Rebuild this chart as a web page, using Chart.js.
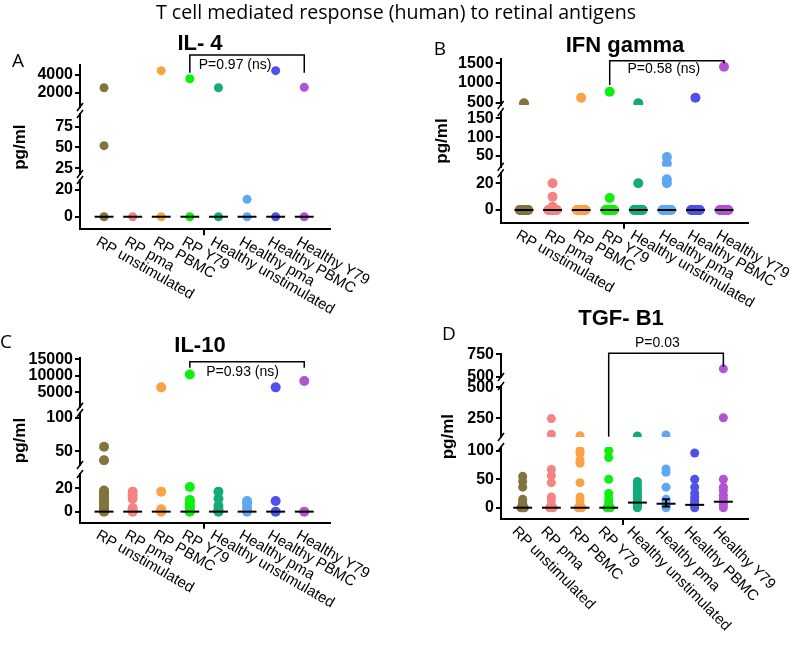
<!DOCTYPE html>
<html>
<head>
<meta charset="utf-8">
<title>T cell mediated response (human) to retinal antigens</title>
<script src="https://cdn.jsdelivr.net/npm/chart.js@4.4.1/dist/chart.umd.min.js"></script>
<style>
  body { margin: 0; background: #fff; }
  #wrap { position: relative; width: 796px; height: 649px; overflow: hidden; }
  #wrap canvas { position: absolute; left: 0; top: 0; }
  .txt { position: absolute; white-space: nowrap; transform: translate(-50%, -50%); line-height: 1; color: #000; }
  .main { font-family: "Open Sans", sans-serif; font-size: 19.6px; }
  .letter { font-family: "Open Sans", sans-serif; font-size: 19px; }
  .ptitle { font-family: "Liberation Sans", Arial, sans-serif; font-size: 22px; font-weight: bold; }
</style>
</head>
<body>
<div id="wrap">
  <canvas id="chartA" width="796" height="649"></canvas>
  <canvas id="chartB" width="796" height="649"></canvas>
  <canvas id="chartC" width="796" height="649"></canvas>
  <canvas id="chartD" width="796" height="649"></canvas>
  <div class="txt main" style="left:396px; top:12px">T cell mediated response (human) to retinal antigens</div>
  <div class="txt letter" style="left:18px; top:60px">A</div>
  <div class="txt letter" style="left:440px; top:48px">B</div>
  <div class="txt letter" style="left:6px; top:341px">C</div>
  <div class="txt letter" style="left:449px; top:333px">D</div>
  <div class="txt ptitle" style="left:200px; top:43px">IL- 4</div>
  <div class="txt ptitle" style="left:625px; top:45px">IFN gamma</div>
  <div class="txt ptitle" style="left:200px; top:345px">IL-10</div>
  <div class="txt ptitle" style="left:621px; top:318px">TGF- B1</div>
</div>
<script>
const categories = ["RP unstimulated", "RP pma", "RP PBMC", "RP Y79",
    "Healthy unstimulated", "Healthy pma", "Healthy PBMC", "Healthy Y79"];
const groupColors = ["#83733d", "#f68282", "#fba244", "#0cf00c",
    "#13ab79", "#5ea8f2", "#5050ea", "#b252d4"];

// A: IL-4
const il4Values = [
    [2550, 52, 0],
    [0],
    [4470, 0],
    [3560, 0],
    [2550, 0],
    [13, 0],
    [4470, 0],
    [2600, 0]
];
const il4Medians = [0, 0, 0, 0, 0, 0, 0, 0];
const il4Ticks = [[2000, 4000], [25, 50, 75], [0, 20]];

// B: IFN gamma
const ifnValues = [
    [483, 0, 0, 0, 0, 0, 0, 0, 0, 0, 0, 0, 0],
    [20, 10, 2.5, 0, 0, 0, 0, 0, 0, 0, 0, 0, 0, 0, 0],
    [625, 0, 0, 0, 0, 0, 0, 0, 0, 0, 0, 0, 0],
    [778, 9, 0, 0, 0, 0, 0, 0, 0, 0, 0, 0, 0, 0],
    [483, 20, 0, 0, 0, 0, 0, 0, 0, 0, 0, 0, 0, 0],
    [47, 30, 23, 20, 0, 0, 0, 0, 0, 0, 0, 0, 0, 0, 0, 0],
    [625, 0, 0, 0, 0, 0, 0, 0, 0, 0, 0, 0, 0],
    [1412, 0, 0, 0, 0, 0, 0, 0, 0, 0, 0, 0, 0]
];
const ifnMedians = [0, 0, 0, 0, 0, 0, 0, 0];
const ifnTicks = [[500, 1000, 1500], [50, 100, 150], [0, 20]];

// C: IL-10
const il10Values = [
    [57, 37, 18, 16, 15, 13, 11, 10, 9, 7, 5, 3, 1, 0],
    [17, 14, 11, 3, 1, 0],
    [6500, 17, 2, 0],
    [10400, 21, 10, 8, 5, 3, 1, 0],
    [17, 11, 5, 2, 0],
    [9, 7, 3, 0],
    [6500, 9, 0],
    [8400, 0]
];
const il10Medians = [0, 0, 0, 0, 0, 0, 0, 0];
const il10Ticks = [[5000, 10000, 15000], [50, 100], [0, 20]];

// D: TGF-B1
const tgfValues = [
    [55, 46, 36, 15, 10, 7, 3, 0, 0, 0],
    [248, 122, 67, 56, 44, 19, 13, 5, 0, 0],
    [110, 100, 95, 84, 78, 44, 19, 12, 5, 0, 0],
    [100, 88, 50, 25, 16, 10, 5, 0, 0],
    [108, 46, 42, 38, 34, 30, 26, 22, 18, 14, 10, 6, 3, 0],
    [117, 68, 62, 36, 15, 12, 8, 5, 2, 0],
    [96, 50, 36, 25, 18, 12, 8, 4, 0],
    [590, 255, 50, 36, 30, 22, 16, 10, 5, 0]
];
const tgfMedians = [0, 0, 0, 0, 9, 7, 5, 10.5];
const tgfErrLow = [null, null, null, null, null, 2, null, null];
const tgfErrHigh = [null, null, null, null, null, 15, null, null];
const tgfTicks = [[500, 750], [250, 500], [0, 50, 100]];

const FONT = '"Liberation Sans", Arial, sans-serif';
const AXIS_W = 60;
const XAXIS_H = 8;

const panels = [
    {
        canvas: "chartA", values: il4Values, medians: il4Medians, ticks: il4Ticks,
        segs: [{min: 400, max: 5100, h: 42}, {min: 18, max: 90, h: 60}, {min: -9.4, max: 27.5, h: 49.3}],
        gaps: [7, 6],
        left: 80, top: 65, right: 330, bottom: 229.3, xMin: -0.84, xMax: 7.9,
        radius: 4.5, spread: 0, angle: 30, ylabelDx: -60,
        bracket: {text: "P=0.97 (ns)", top: -10, legL: 7.7, legR: 7.7, textY: 0, dx: -12}
    },
    {
        canvas: "chartB", values: ifnValues, medians: ifnMedians, ticks: ifnTicks,
        segs: [{min: 440, max: 1600, h: 45.7}, {min: 21.5, max: 167, h: 54.7}, {min: -9.5, max: 27.5, h: 49.4}],
        gaps: [7, 6.6],
        left: 500.7, top: 59.3, right: 748.3, bottom: 222.7, xMin: -0.815, xMax: 7.85,
        radius: 5, spread: 0.3, angle: 30, ylabelDx: -58,
        bracket: {text: "P=0.58 (ns)", top: 1.4, legL: 25.7, legR: 4, textY: 9.7, dx: -3}
    },
    {
        canvas: "chartC", values: il10Values, medians: il10Medians, ticks: il10Ticks,
        segs: [{min: 640, max: 15300, h: 48.4}, {min: 30, max: 107, h: 52}, {min: -9.4, max: 32, h: 48.7}],
        gaps: [6.3, 9],
        left: 80, top: 358.3, right: 330, bottom: 522.7, xMin: -0.84, xMax: 7.9,
        radius: 5, spread: 0, angle: 30, ylabelDx: -60,
        bracket: {text: "P=0.93 (ns)", top: 3.4, legL: 9.4, legR: 9.4, textY: 13.7, dx: -4.5}
    },
    {
        canvas: "chartD", values: tgfValues, medians: tgfMedians, ticks: tgfTicks,
        errLow: tgfErrLow, errHigh: tgfErrHigh,
        segs: [{min: 500, max: 750, h: 22.7}, {min: 100, max: 510, h: 51}, {min: -19.8, max: 106.5, h: 72}],
        gaps: [9, 10],
        left: 501, top: 354.3, right: 748.3, bottom: 519, xMin: -0.757, xMax: 7.87,
        radius: 4.5, spread: 0.12, angle: 45, ylabelDx: -53,
        bracket: {text: "P=0.03", top: -1, legL: 82.4, legR: 12.4, textY: -11.6, dx: -8.7}
    }
];

// which axis segment a value belongs to (lower segment wins a tie)
function segOf(p, v) {
    let best = 0, bestDist = Infinity;
    p.segs.forEach((s, k) => {
        const d = v < s.min ? s.min - v : (v > s.max ? v - s.max : 0);
        if (d <= bestDist) { bestDist = d; best = k; }
    });
    return best;
}

// spread identical values sideways like a dot plot
function groupPoints(vals, i, spread) {
    const counts = {};
    vals.forEach(v => { counts[v] = (counts[v] || 0) + 1; });
    const seen = {};
    return vals.map(v => {
        const n = counts[v];
        seen[v] = seen[v] === undefined ? 0 : seen[v] + 1;
        const dx = n > 1 ? (seen[v] - (n - 1) / 2) * spread / (n - 1) : 0;
        return {x: i + dx, y: v};
    });
}

function decorPlugin(p) {
    return {
        id: "decor",
        afterDatasetsDraw(chart) {
            const ctx = chart.ctx;
            const xs = chart.scales.x;
            ctx.save();
            ctx.strokeStyle = "#000";
            ctx.lineWidth = 2;
            p.medians.forEach((m, i) => {
                const y = chart.scales["y" + segOf(p, m)].getPixelForValue(m);
                ctx.beginPath();
                ctx.moveTo(xs.getPixelForValue(i - 0.33), y);
                ctx.lineTo(xs.getPixelForValue(i + 0.33), y);
                ctx.stroke();
            });
            if (p.errLow) {
                p.errLow.forEach((lo, i) => {
                    if (lo === null) return;
                    const hi = p.errHigh[i];
                    const ys = chart.scales["y" + segOf(p, lo)];
                    const x = xs.getPixelForValue(i);
                    const x0 = xs.getPixelForValue(i - 0.13), x1 = xs.getPixelForValue(i + 0.13);
                    const y0 = ys.getPixelForValue(lo), y1 = ys.getPixelForValue(hi);
                    ctx.beginPath();
                    ctx.moveTo(x, y0); ctx.lineTo(x, y1);
                    ctx.moveTo(x0, y0); ctx.lineTo(x1, y0);
                    ctx.moveTo(x0, y1); ctx.lineTo(x1, y1);
                    ctx.stroke();
                });
            }
            ctx.restore();
        },
        afterDraw(chart) {
            const ctx = chart.ctx;
            const area = chart.chartArea;
            const xs = chart.scales.x;
            ctx.save();
            ctx.strokeStyle = "#000";
            ctx.fillStyle = "#000";

            // axis break marks
            ctx.lineWidth = 1.5;
            for (let s = 0; s < p.segs.length - 1; s++) {
                const ends = [chart.scales["y" + s].bottom, chart.scales["y" + (s + 1)].top];
                ends.forEach(y => {
                    ctx.beginPath();
                    ctx.moveTo(area.left - 3, y + 4);
                    ctx.lineTo(area.left + 3, y - 4);
                    ctx.stroke();
                });
            }

            // significance bracket
            const b = p.bracket;
            const bx0 = xs.getPixelForValue(3), bx1 = xs.getPixelForValue(7);
            const by = area.top + b.top;
            ctx.lineWidth = 1.5;
            ctx.beginPath();
            ctx.moveTo(bx0, area.top + b.legL);
            ctx.lineTo(bx0, by);
            ctx.lineTo(bx1, by);
            ctx.lineTo(bx1, area.top + b.legR);
            ctx.stroke();
            ctx.font = "14px " + FONT;
            ctx.textAlign = "center";
            ctx.textBaseline = "middle";
            ctx.fillText(b.text, (bx0 + bx1) / 2 + b.dx, area.top + b.textY);

            // rotated category labels
            ctx.font = "15px " + FONT;
            ctx.textAlign = "left";
            ctx.textBaseline = "top";
            categories.forEach((c, i) => {
                ctx.save();
                ctx.translate(xs.getPixelForValue(i) - 3, xs.top + 5);
                ctx.rotate(p.angle * Math.PI / 180);
                ctx.fillText(c, 0, 0);
                ctx.restore();
            });

            // y axis title
            ctx.save();
            ctx.translate(area.left + p.ylabelDx, (area.top + area.bottom) / 2);
            ctx.rotate(-Math.PI / 2);
            ctx.font = "bold 17px " + FONT;
            ctx.textAlign = "center";
            ctx.textBaseline = "middle";
            ctx.fillText("pg/ml", 0, 0);
            ctx.restore();

            ctx.restore();
        }
    };
}

function buildChart(p) {
    const datasets = [];
    p.values.forEach((vals, i) => {
        const pts = groupPoints(vals, i, p.spread);
        p.segs.forEach((s, k) => {
            const inSeg = pts.filter(pt => segOf(p, pt.y) === k);
            if (!inSeg.length) return;
            datasets.push({
                label: categories[i],
                data: inSeg,
                xAxisID: "x",
                yAxisID: "y" + k,
                backgroundColor: groupColors[i],
                borderWidth: 0,
                pointRadius: p.radius,
                pointHoverRadius: p.radius
            });
        });
    });

    const scales = {
        x: {
            type: "linear",
            position: "bottom",
            min: p.xMin,
            max: p.xMax,
            afterBuildTicks: (scale) => { scale.ticks = [{value: 3.5}]; },
            afterFit: (scale) => { scale.height = XAXIS_H; },
            ticks: {display: false},
            grid: {display: true, drawOnChartArea: false, drawTicks: true, tickLength: 6, color: "#000", lineWidth: 2},
            border: {display: true, color: "#000", width: 2}
        }
    };
    const n = p.segs.length;
    let order = 2 * n;
    p.segs.forEach((s, k) => {
        const tickVals = p.ticks[k];
        scales["y" + k] = {
            type: "linear",
            axis: "y",
            position: "left",
            stack: "left",
            stackWeight: s.h,
            weight: order--,
            bounds: "data",
            min: s.min,
            max: s.max,
            afterBuildTicks: (scale) => { scale.ticks = tickVals.map(v => ({value: v})); },
            afterFit: (scale) => { scale.width = AXIS_W; },
            ticks: {
                color: "#000",
                padding: 2,
                autoSkip: false,
                font: {family: FONT, size: 16, weight: "bold"},
                callback: (v) => String(v)
            },
            grid: {display: true, drawOnChartArea: false, drawTicks: true, tickLength: 5, color: "#000", lineWidth: 2},
            border: {display: true, color: "#000", width: 2}
        };
        if (k < n - 1) {
            scales["g" + k] = {
                type: "linear",
                axis: "y",
                position: "left",
                stack: "left",
                stackWeight: p.gaps[k],
                weight: order--,
                min: 0,
                max: 1,
                afterBuildTicks: (scale) => { scale.ticks = []; },
                afterFit: (scale) => { scale.width = AXIS_W; },
                ticks: {display: false},
                grid: {display: false},
                border: {display: false}
            };
        }
    });

    return new Chart(document.getElementById(p.canvas), {
        type: "scatter",
        data: {datasets: datasets},
        options: {
            responsive: false,
            animation: false,
            events: [],
            layout: {
                padding: {
                    left: p.left - AXIS_W,
                    top: p.top,
                    right: 796 - p.right,
                    bottom: 649 - p.bottom - XAXIS_H
                }
            },
            scales: scales,
            plugins: {
                legend: {display: false},
                tooltip: {enabled: false}
            }
        },
        plugins: [decorPlugin(p)]
    });
}

panels.forEach(buildChart);
</script>
</body>
</html>
